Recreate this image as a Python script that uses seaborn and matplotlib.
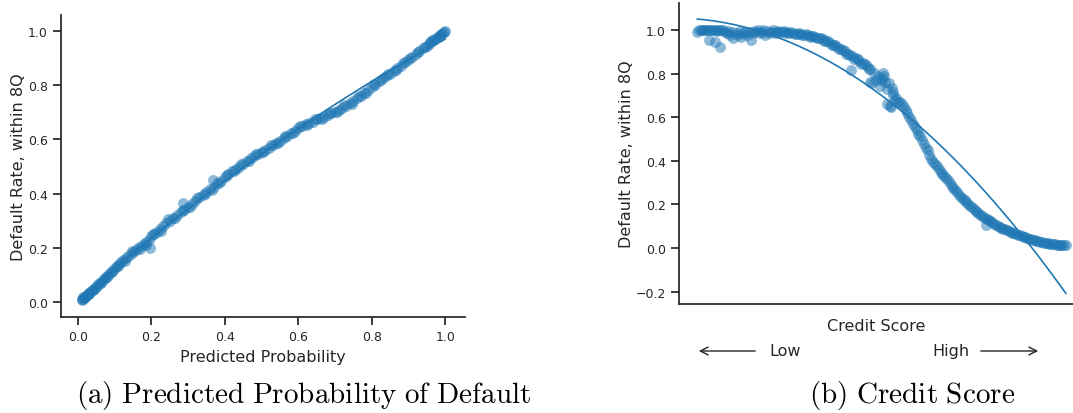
import numpy as np
import pandas as pd
import matplotlib
matplotlib.use("Agg")
import matplotlib.pyplot as plt
import seaborn as sns

# ---- Panel (a): predicted probability vs default rate ----
prob_x = [0.010, 0.012, 0.014, 0.016, 0.018, 0.020, 0.022, 0.025, 0.028, 0.031,
          0.034, 0.037, 0.040, 0.044, 0.048, 0.052, 0.056, 0.060, 0.065, 0.070,
          0.075, 0.080, 0.085, 0.090, 0.095, 0.100, 0.106, 0.112, 0.118, 0.124,
          0.130, 0.137, 0.144, 0.151, 0.158, 0.165, 0.172, 0.179, 0.186, 0.193,
          0.196, 0.200, 0.208, 0.216, 0.224, 0.232, 0.240, 0.250, 0.260, 0.270,
          0.280, 0.287, 0.290, 0.300, 0.310, 0.320, 0.330, 0.340, 0.350, 0.360,
          0.369, 0.370, 0.380, 0.390, 0.400, 0.410, 0.420, 0.430, 0.440, 0.450,
          0.460, 0.470, 0.480, 0.490, 0.500, 0.510, 0.520, 0.530, 0.540, 0.550,
          0.560, 0.570, 0.580, 0.590, 0.600, 0.610, 0.620, 0.630, 0.640, 0.650,
          0.660, 0.670, 0.680, 0.690, 0.700, 0.710, 0.720, 0.730, 0.740, 0.750,
          0.760, 0.770, 0.780, 0.790, 0.800, 0.810, 0.820, 0.830, 0.840, 0.850,
          0.860, 0.870, 0.880, 0.890, 0.900, 0.910, 0.920, 0.930, 0.940, 0.950,
          0.955, 0.960, 0.965, 0.970, 0.975, 0.980, 0.985, 0.990, 0.994, 0.997,
          1.000]
prob_y = [0.008, 0.010, 0.013, 0.015, 0.017, 0.020, 0.022, 0.026, 0.030, 0.033,
          0.037, 0.041, 0.045, 0.050, 0.055, 0.060, 0.066, 0.071, 0.077, 0.084,
          0.090, 0.097, 0.103, 0.110, 0.118, 0.124, 0.134, 0.141, 0.147, 0.156,
          0.162, 0.170, 0.178, 0.186, 0.192, 0.199, 0.206, 0.214, 0.221, 0.230,
          0.198, 0.244, 0.252, 0.258, 0.268, 0.280, 0.292, 0.300, 0.310, 0.322,
          0.332, 0.366, 0.340, 0.352, 0.362, 0.374, 0.386, 0.396, 0.406, 0.416,
          0.449, 0.426, 0.438, 0.448, 0.460, 0.472, 0.484, 0.492, 0.500, 0.510,
          0.520, 0.530, 0.538, 0.546, 0.554, 0.562, 0.570, 0.578, 0.588, 0.596,
          0.606, 0.614, 0.622, 0.632, 0.642, 0.648, 0.656, 0.660, 0.666, 0.674,
          0.678, 0.684, 0.690, 0.696, 0.702, 0.710, 0.716, 0.724, 0.734, 0.742,
          0.752, 0.762, 0.772, 0.782, 0.792, 0.802, 0.816, 0.826, 0.834, 0.842,
          0.852, 0.862, 0.872, 0.884, 0.892, 0.904, 0.914, 0.926, 0.936, 0.946,
          0.952, 0.958, 0.963, 0.968, 0.974, 0.979, 0.984, 0.989, 0.993, 0.996,
          1.000]
prob_x2 = [0.015, 0.030, 0.045, 0.062, 0.078, 0.092, 0.110, 0.128, 0.147, 0.168,
           0.185, 0.205, 0.225, 0.245, 0.265, 0.285, 0.305, 0.325, 0.345, 0.365,
           0.385, 0.405, 0.425, 0.445, 0.465, 0.485, 0.505, 0.525, 0.545, 0.565,
           0.585, 0.605, 0.625, 0.645, 0.665, 0.685, 0.705, 0.725, 0.745, 0.765,
           0.785, 0.805, 0.825, 0.845, 0.865, 0.885, 0.905, 0.925, 0.945, 0.965,
           0.985]
prob_y2 = [0.020, 0.030, 0.050, 0.072, 0.092, 0.110, 0.132, 0.152, 0.188, 0.196,
           0.212, 0.250, 0.262, 0.305, 0.312, 0.340, 0.352, 0.384, 0.398, 0.414,
           0.440, 0.470, 0.482, 0.510, 0.520, 0.546, 0.554, 0.578, 0.588, 0.614,
           0.622, 0.650, 0.652, 0.676, 0.676, 0.698, 0.700, 0.726, 0.730, 0.762,
           0.770, 0.804, 0.818, 0.840, 0.856, 0.882, 0.900, 0.924, 0.940, 0.966,
           0.982]

# ---- Panel (b): credit score (rank, arbitrary units) vs default rate ----
top_x = [0.0, 0.5, 1.0, 1.5, 2.0, 2.5, 3.0, 3.3, 3.5, 4.0,
         4.5, 4.8, 5.0, 5.5, 6.0, 6.1, 6.5, 7.0, 7.5, 8.0,
         8.5, 9.0, 9.5, 9.8, 10.5, 11.0, 11.5, 12.0, 12.5, 13.0,
         13.5, 14.0, 14.7, 15.0, 15.5, 16.0, 16.5, 17.0, 17.5, 18.0,
         18.5, 19.0, 19.5, 20.0, 20.5, 21.0, 21.5, 22.0, 22.5, 23.0,
         23.5, 24.0, 24.5]
top_y = [0.990, 0.998, 1.000, 0.999, 1.000, 0.998, 1.000, 0.952, 0.999, 1.000,
         0.998, 0.943, 1.000, 0.997, 1.000, 0.924, 0.998, 0.999, 0.990, 0.985,
         0.995, 0.978, 0.992, 0.962, 0.985, 0.975, 0.995, 0.968, 0.985, 0.990,
         0.975, 0.992, 0.952, 0.985, 0.995, 0.990, 0.998, 0.985, 0.992, 0.998,
         0.975, 0.995, 0.988, 0.992, 0.998, 0.985, 0.993, 0.995, 0.992, 0.990,
         0.994, 0.988, 0.990]
decline_x = [25.0, 25.5, 26.0, 26.5, 27.0, 27.5, 28.0, 28.5, 29.0, 29.5,
             30.0, 30.5, 31.0, 31.5, 32.0, 32.5, 33.0, 33.5, 34.0, 34.5,
             35.0, 35.5, 36.0, 36.5, 37.0, 37.5, 38.0, 38.5, 39.0, 39.5,
             40.0, 40.5, 41.0, 41.5, 41.6, 42.0, 42.5, 43.0, 43.5, 44.0,
             44.5, 45.0, 45.5, 46.0, 46.5, 46.8, 47.0]
decline_y = [0.986, 0.990, 0.985, 0.982, 0.983, 0.986, 0.981, 0.976, 0.978, 0.980,
             0.976, 0.970, 0.973, 0.972, 0.968, 0.962, 0.963, 0.962, 0.957, 0.950,
             0.950, 0.948, 0.942, 0.932, 0.933, 0.930, 0.922, 0.912, 0.912, 0.908,
             0.902, 0.890, 0.890, 0.885, 0.817, 0.880, 0.868, 0.870, 0.866, 0.860,
             0.846, 0.848, 0.842, 0.835, 0.820, 0.760, 0.822]
drop_x = [47.5, 48.0, 48.5, 49.0, 49.5, 49.8, 50.0, 50.4, 50.8, 51.0,
          51.4, 51.5, 52.0, 52.3, 52.7, 52.8, 53.0, 53.2, 53.6, 54.0,
          54.5, 55.0, 55.5, 56.0, 56.5, 57.0, 57.5, 58.0, 58.5, 59.0,
          59.5, 60.0, 60.5, 61.0, 61.5, 62.0, 62.5, 63.0, 63.5, 64.0]
drop_y = [0.755, 0.805, 0.770, 0.790, 0.745, 0.770, 0.780, 0.805, 0.790, 0.760,
          0.660, 0.730, 0.755, 0.652, 0.645, 0.735, 0.715, 0.700, 0.680, 0.690,
          0.672, 0.668, 0.660, 0.645, 0.632, 0.620, 0.600, 0.585, 0.570, 0.555,
          0.540, 0.525, 0.512, 0.495, 0.478, 0.460, 0.448, 0.428, 0.410, 0.395]
tail_x = [64.5, 65.0, 65.5, 66.0, 66.5, 67.0, 67.5, 68.0, 68.5, 69.0,
          69.5, 70.0, 70.5, 71.0, 71.5, 72.0, 72.5, 73.0, 73.5, 74.0,
          74.5, 75.0, 75.5, 76.0, 76.5, 77.0, 77.5, 78.0, 78.3, 78.5,
          79.0, 79.5, 80.0, 80.5, 81.0, 81.5, 82.0, 82.5, 83.0, 83.5,
          84.0, 84.5, 85.0, 85.5, 86.0, 86.5, 87.0, 87.5, 88.0, 88.5,
          89.0, 89.5, 90.0, 90.5, 91.0, 91.5, 92.0, 92.5, 93.0, 93.5,
          94.0, 94.5, 95.0, 95.5, 96.0, 96.5, 97.0, 97.5, 98.0, 98.5,
          99.0, 99.5, 100.0]
tail_y = [0.385, 0.375, 0.362, 0.350, 0.340, 0.332, 0.322, 0.310, 0.298, 0.285,
          0.276, 0.265, 0.255, 0.245, 0.236, 0.226, 0.218, 0.210, 0.200, 0.192,
          0.186, 0.178, 0.170, 0.163, 0.157, 0.150, 0.144, 0.138, 0.104, 0.132,
          0.127, 0.122, 0.117, 0.111, 0.106, 0.101, 0.097, 0.093, 0.089, 0.085,
          0.082, 0.078, 0.075, 0.071, 0.068, 0.064, 0.061, 0.058, 0.055, 0.052,
          0.049, 0.046, 0.043, 0.041, 0.038, 0.036, 0.034, 0.031, 0.029, 0.027,
          0.025, 0.023, 0.021, 0.020, 0.018, 0.017, 0.016, 0.015, 0.014, 0.014,
          0.013, 0.012, 0.012]

left_ticks = [0.0, 0.2, 0.4, 0.6, 0.8, 1.0]
right_yticks = [-0.2, 0.0, 0.2, 0.4, 0.6, 0.8, 1.0]

sns.set_theme(style="ticks")
plt.rcParams["font.family"] = ["DejaVu Sans"]
plt.rcParams["mathtext.fontset"] = "cm"

color = "#1f77b4"
fig = plt.figure(figsize=(10.73, 4.14), dpi=100)
W, H = 1073, 414
ax1 = fig.add_axes([61 / W, 1 - 318 / H, 404 / W, 302 / H])
ax2 = fig.add_axes([679 / W, 1 - 305 / H, (W - 679) / W, 301 / H])

df_a = pd.DataFrame({"p": prob_x + prob_x2, "d": prob_y + prob_y2})
df_b = pd.DataFrame({"s": top_x + decline_x + drop_x + tail_x,
                     "d": top_y + decline_y + drop_y + tail_y})

scat = dict(alpha=0.5, s=62, linewidths=0)
sns.regplot(data=df_a, x="p", y="d", order=2, ci=None, color=color,
            scatter_kws=scat, line_kws=dict(lw=1.2), ax=ax1)
sns.regplot(data=df_b, x="s", y="d", order=2, ci=None, color=color,
            scatter_kws=scat, line_kws=dict(lw=1.2), ax=ax2)

ax1.set_xlim(-0.046, 1.054)
ax1.set_ylim(-0.055, 1.059)
ax1.set_xticks(left_ticks)
ax1.set_yticks(left_ticks)
ax1.set_xlabel("Predicted Probability", fontsize=11.5)
ax1.set_ylabel("Default Rate, within 8Q", fontsize=11.5, labelpad=1)

ax2.set_xlim(-4.9, 101.9)
ax2.set_ylim(-0.257, 1.124)
ax2.set_xticks([])
ax2.set_yticks(right_yticks)
ax2.set_xlabel("Credit Score", fontsize=11.5, labelpad=10)
ax2.set_ylabel("Default Rate, within 8Q", fontsize=11.5, labelpad=1)

for ax in (ax1, ax2):
    ax.tick_params(labelsize=9)
    sns.despine(ax=ax)

# Low / High arrows under the credit score axis
ya = 1 - 352 / H
fig.text(785 / W, ya, "Low", ha="center", va="center", fontsize=11.5, color=".15")
fig.text(951 / W, ya, "High", ha="center", va="center", fontsize=11.5, color=".15")
fig.add_artist(matplotlib.patches.FancyArrowPatch((758 / W, ya), (696 / W, ya),
               transform=fig.transFigure, arrowstyle="->", mutation_scale=14,
               lw=1.0, color=".15"))
fig.add_artist(matplotlib.patches.FancyArrowPatch((978 / W, ya), (1041 / W, ya),
               transform=fig.transFigure, arrowstyle="->", mutation_scale=14,
               lw=1.0, color=".15"))

# Captions
yc = 1 - 396 / H
fig.text(304 / W, yc, r"$\mathrm{(a)\ Predicted\ Probability\ of\ Default}$",
         ha="center", va="center", fontsize=21, color="black")
fig.text(912 / W, yc, r"$\mathrm{(b)\ Credit\ Score}$",
         ha="center", va="center", fontsize=21, color="black")

fig.savefig("out.png", dpi=100)
